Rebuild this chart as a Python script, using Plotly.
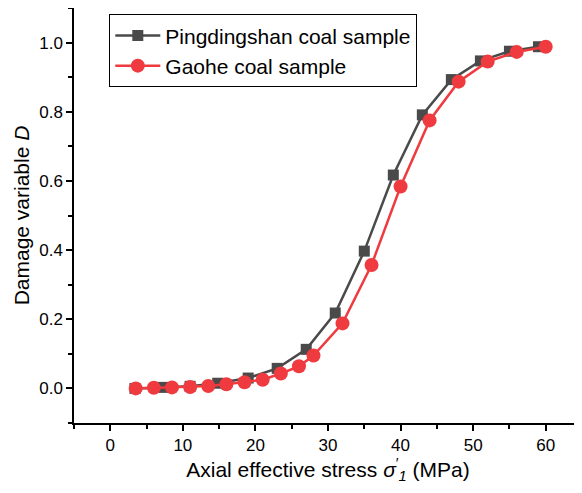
import plotly.graph_objects as go

# Pingdingshan coal sample
ping_x = [3.4, 7.2, 11.0, 14.8, 19.0, 23.0, 27.0, 31.0, 35.0, 39.0, 43.0, 47.0, 51.0, 55.0, 59.0]
ping_y = [0.0, 0.003, 0.006, 0.015, 0.030, 0.058, 0.113, 0.218, 0.397, 0.617, 0.791, 0.893, 0.947, 0.975, 0.988]

# Gaohe coal sample
gaohe_x = [3.5, 6.0, 8.5, 11.0, 13.5, 16.0, 18.5, 21.0, 23.5, 26.0, 28.0, 32.0, 36.0, 40.0, 44.0, 48.0, 52.0, 56.0, 60.0]
gaohe_y = [0.0, 0.002, 0.003, 0.004, 0.007, 0.012, 0.018, 0.025, 0.043, 0.064, 0.095, 0.188, 0.357, 0.584, 0.775, 0.887, 0.945, 0.973, 0.988]

x_ticks = [0, 10, 20, 30, 40, 50, 60]
y_ticks = [0.0, 0.2, 0.4, 0.6, 0.8, 1.0]

GRAY = "#4a4a4a"
RED = "#ef3b3f"
FONT = "Liberation Sans, Arial, sans-serif"

fig = go.Figure()
fig.add_trace(go.Scatter(
    x=ping_x, y=ping_y, mode="lines+markers", name="Pingdingshan coal sample",
    line=dict(color=GRAY, width=2.5),
    marker=dict(symbol="square", size=11, color=GRAY),
))
fig.add_trace(go.Scatter(
    x=gaohe_x, y=gaohe_y, mode="lines+markers", name="Gaohe coal sample",
    line=dict(color=RED, width=2.5),
    marker=dict(symbol="circle", size=14, color=RED),
))

fig.update_layout(
    width=576, height=485,
    margin=dict(l=66, r=2, t=0, b=70, autoexpand=False),
    paper_bgcolor="white", plot_bgcolor="white",
    font=dict(family=FONT, size=17, color="black"),
    showlegend=True,
    legend=dict(
        x=0.0695, y=0.985, xanchor="left", yanchor="top",
        bordercolor="black", borderwidth=1, bgcolor="white",
        font=dict(family=FONT, size=21, color="black"),
        tracegroupgap=0, itemwidth=45,
    ),
    xaxis=dict(
        range=[-5, 65], tickvals=x_ticks, ticktext=[str(v) for v in x_ticks],
        showgrid=False, zeroline=False, showline=True, linecolor="black", linewidth=1.5,
        ticks="outside", ticklen=6, tickwidth=1.5, tickcolor="black", automargin=False,
        minor=dict(dtick=5, tick0=0, ticks="outside", ticklen=4, tickwidth=1.5, tickcolor="black"),
        title=dict(text="Axial effective stress <i>σ</i><sup>′</sup><sub><i>1</i></sub> (MPa)",
                   font=dict(family=FONT, size=21), standoff=6),
        tickfont=dict(family=FONT, size=17),
    ),
    yaxis=dict(
        range=[-0.1, 1.1], tickvals=y_ticks, ticktext=[f"{v:.1f}" for v in y_ticks],
        showgrid=False, zeroline=False, showline=True, linecolor="black", linewidth=1.5,
        ticks="outside", ticklen=6, tickwidth=1.5, tickcolor="black", automargin=False,
        minor=dict(dtick=0.1, tick0=0, ticks="outside", ticklen=4, tickwidth=1.5, tickcolor="black"),
        title=dict(text="Damage variable <i>D</i>", font=dict(family=FONT, size=21), standoff=4),
        tickfont=dict(family=FONT, size=17),
    ),
)

fig.write_html("out.html")
